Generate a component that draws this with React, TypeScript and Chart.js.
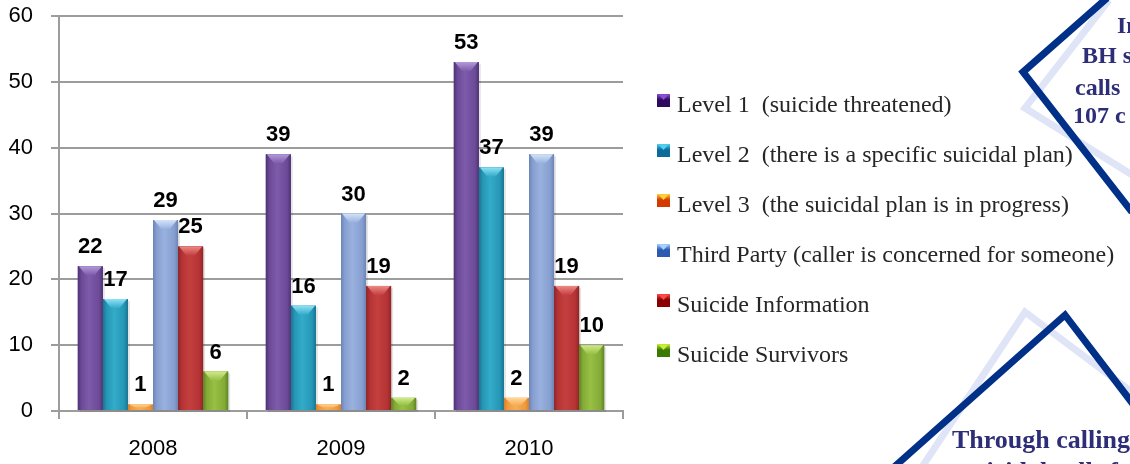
import { useEffect, useRef } from "react";
import { Chart, registerables } from "chart.js";

Chart.register(...registerables);

// Crisis line call categories per year
const years = ["2008", "2009", "2010"];
const seriesNames = [
  "Level 1  (suicide threatened)",
  "Level 2  (there is a specific suicidal plan)",
  "Level 3  (the suicidal plan is in progress)",
  "Third Party (caller is concerned for someone)",
  "Suicide Information",
  "Suicide Survivors",
];
const level1 = [22, 39, 53];
const level2 = [17, 16, 37];
const level3 = [1, 1, 2];
const thirdParty = [29, 30, 39];
const suicideInfo = [25, 19, 19];
const survivors = [6, 2, 10];
const seriesValues = [level1, level2, level3, thirdParty, suicideInfo, survivors];
const yMax = 60;
const yStep = 10;

// Shaded bar skins: edge, body, shine, bevel top
const barSkins = [
  { edge: "#4e3273", body: "#6c4a97", shine: "#7e5bab", top: "#b39ad8" },
  { edge: "#1a7390", body: "#2596b6", shine: "#33abc9", top: "#8fe2f5" },
  { edge: "#d9802a", body: "#f09a3e", shine: "#f7ae56", top: "#ffd79a" },
  { edge: "#6a84b4", body: "#869fd0", shine: "#98b1de", top: "#d4e3f8" },
  { edge: "#8e2527", body: "#b53335", shine: "#c4403f", top: "#ec8a86" },
  { edge: "#5f8326", body: "#83ab36", shine: "#97c044", top: "#d0ea8c" },
];
// Legend key colours: dark, light
const keySkins = [
  ["#2e0a5c", "#8a4fd6"],
  ["#0a6a9a", "#52d0f0"],
  ["#d43a00", "#ffd23a"],
  ["#2c5ab0", "#a8d0ff"],
  ["#8a0000", "#ff4a4a"],
  ["#3a7a00", "#c8f03a"],
];

const NAVY = "#003087";
const PALE = "#dfe5f7";
const SLIDE_TEXT = "#2d2d78";

const barSkinPlugin = {
  id: "barSkin",
  afterDatasetsDraw(chart: any) {
    const ctx = chart.ctx as CanvasRenderingContext2D;
    chart.data.datasets.forEach((ds: any, i: number) => {
      const meta = chart.getDatasetMeta(i);
      const skin = barSkins[i];
      meta.data.forEach((el: any) => {
        const { x, y, base, width } = el.getProps(["x", "y", "base", "width"], true);
        const l = x - width / 2;
        const r = x + width / 2;
        const h = base - y;
        ctx.save();
        // soft drop shadow
        ctx.fillStyle = "rgba(0,0,0,0.10)";
        ctx.fillRect(l + 2, y + 2, width, h);
        const g = ctx.createLinearGradient(l, 0, r, 0);
        g.addColorStop(0, skin.edge);
        g.addColorStop(0.15, skin.body);
        g.addColorStop(0.45, skin.shine);
        g.addColorStop(0.85, skin.body);
        g.addColorStop(1, skin.edge);
        ctx.fillStyle = g;
        ctx.fillRect(l, y, width, h);
        // top bevel
        const d = Math.min(9, h * 0.6);
        ctx.beginPath();
        ctx.moveTo(l + 1, y);
        ctx.lineTo(r - 1, y);
        ctx.lineTo(r - width * 0.33, y + d);
        ctx.lineTo(l + width * 0.33, y + d);
        ctx.closePath();
        const gb = ctx.createLinearGradient(0, y, 0, y + d);
        gb.addColorStop(0, skin.top);
        gb.addColorStop(1, skin.shine);
        ctx.fillStyle = gb;
        ctx.fill();
        ctx.restore();
      });
    });
  },
};

const valueLabelPlugin = {
  id: "valueLabels",
  afterDatasetsDraw(chart: any) {
    const ctx = chart.ctx as CanvasRenderingContext2D;
    ctx.save();
    ctx.font = "bold 22px 'Liberation Sans', Arial, sans-serif";
    ctx.fillStyle = "#000";
    ctx.textAlign = "center";
    ctx.textBaseline = "alphabetic";
    chart.data.datasets.forEach((ds: any, i: number) => {
      const meta = chart.getDatasetMeta(i);
      meta.data.forEach((el: any, j: number) => {
        const { x, y } = el.getProps(["x", "y"], true);
        ctx.fillText(String(ds.data[j]), x, y - 13);
      });
    });
    ctx.restore();
  },
};

const sideLegendPlugin = {
  id: "sideLegend",
  afterDraw(chart: any) {
    const ctx = chart.ctx as CanvasRenderingContext2D;
    ctx.save();
    ctx.font = "24px 'Liberation Serif', 'Times New Roman', serif";
    ctx.textBaseline = "alphabetic";
    chart.data.datasets.forEach((ds: any, i: number) => {
      const top = 94 + i * 50;
      const [dark, light] = keySkins[i];
      const kx = 657;
      const ks = 13;
      const g = ctx.createLinearGradient(kx, top, kx, top + ks);
      g.addColorStop(0, light);
      g.addColorStop(0.45, dark);
      g.addColorStop(1, dark);
      ctx.fillStyle = g;
      ctx.fillRect(kx, top, ks, ks);
      ctx.fillStyle = light;
      ctx.beginPath();
      ctx.moveTo(kx + 2, top + 1);
      ctx.lineTo(kx + ks - 2, top + 1);
      ctx.lineTo(kx + ks / 2, top + 6);
      ctx.closePath();
      ctx.fill();
      ctx.fillStyle = "#262626";
      ctx.fillText(ds.label, 677, top + 18);
    });
    ctx.restore();
  },
};

const slideDecorPlugin = {
  id: "slideDecor",
  afterDraw(chart: any) {
    const ctx = chart.ctx as CanvasRenderingContext2D;
    const path = (pts: number[][], color: string) => {
      ctx.beginPath();
      ctx.moveTo(pts[0][0], pts[0][1]);
      for (let k = 1; k < pts.length; k++) ctx.lineTo(pts[k][0], pts[k][1]);
      ctx.strokeStyle = color;
      ctx.lineWidth = 7;
      ctx.lineJoin = "miter";
      ctx.stroke();
    };
    ctx.save();
    // upper-right frames
    path([[1109, 0], [1025, 108], [1140, 180]], PALE);
    path([[1107, -2], [1023, 72], [1132, 212]], NAVY);
    // lower-right frames
    path([[920, 470], [1025, 312], [1140, 398]], PALE);
    path([[893, 468], [1065, 315], [1136, 408]], NAVY);

    ctx.fillStyle = SLIDE_TEXT;
    ctx.textBaseline = "alphabetic";
    ctx.font = "bold 24px 'Liberation Serif', 'Times New Roman', serif";
    ctx.fillText("In", 1117, 33);
    ctx.fillText("BH s", 1082, 63);
    ctx.fillText("calls", 1075, 95);
    ctx.fillText("107 c", 1073, 123);
    ctx.font = "bold 26px 'Liberation Serif', 'Times New Roman', serif";
    ctx.fillText("Through calling", 952, 448);
    ctx.fillText("suicidal calls f", 962, 480);
    ctx.restore();
  },
};

export default function App() {
  const canvasRef = useRef<HTMLCanvasElement | null>(null);

  useEffect(() => {
    const canvas = canvasRef.current;
    if (!canvas) return;
    const axisFont = { family: "'Liberation Sans', Arial, sans-serif", size: 22 };
    const gridColor = "#9c9c9c";
    const chart = new Chart(canvas, {
      type: "bar",
      data: {
        labels: years,
        datasets: seriesValues.map((vals, i) => ({
          label: seriesNames[i],
          data: vals,
          backgroundColor: barSkins[i].body,
          borderWidth: 0,
          categoryPercentage: 0.8,
          barPercentage: 1.0,
        })),
      },
      options: {
        responsive: false,
        animation: false,
        layout: { padding: { top: 16, right: 507, bottom: 0, left: 0 } },
        plugins: {
          legend: { display: false },
          tooltip: { enabled: false },
        },
        scales: {
          x: {
            grid: {
              display: true,
              drawOnChartArea: false,
              drawTicks: true,
              tickLength: 8,
              color: gridColor,
              lineWidth: 2,
            },
            border: { color: gridColor, width: 2 },
            ticks: { color: "#000", font: axisFont, padding: 17 },
            afterFit: (scale: any) => {
              scale.height = 53;
              scale.paddingLeft = 0;
              scale.paddingRight = 0;
            },
          },
          y: {
            min: 0,
            max: yMax,
            ticks: { stepSize: yStep, color: "#000", font: axisFont, padding: 18 },
            grid: { color: gridColor, lineWidth: 2, tickLength: 8 },
            border: { color: gridColor, width: 2 },
            afterFit: (scale: any) => {
              scale.width = 59;
              scale.paddingTop = 0;
              scale.paddingBottom = 0;
            },
          },
        },
      },
      plugins: [barSkinPlugin, valueLabelPlugin, sideLegendPlugin, slideDecorPlugin],
    });
    return () => chart.destroy();
  }, []);

  return (
    <div style={{ position: "absolute", left: 0, top: 0, width: 1130, height: 464, background: "#fff" }}>
      <canvas ref={canvasRef} width={1130} height={464} style={{ display: "block" }} />
    </div>
  );
}
